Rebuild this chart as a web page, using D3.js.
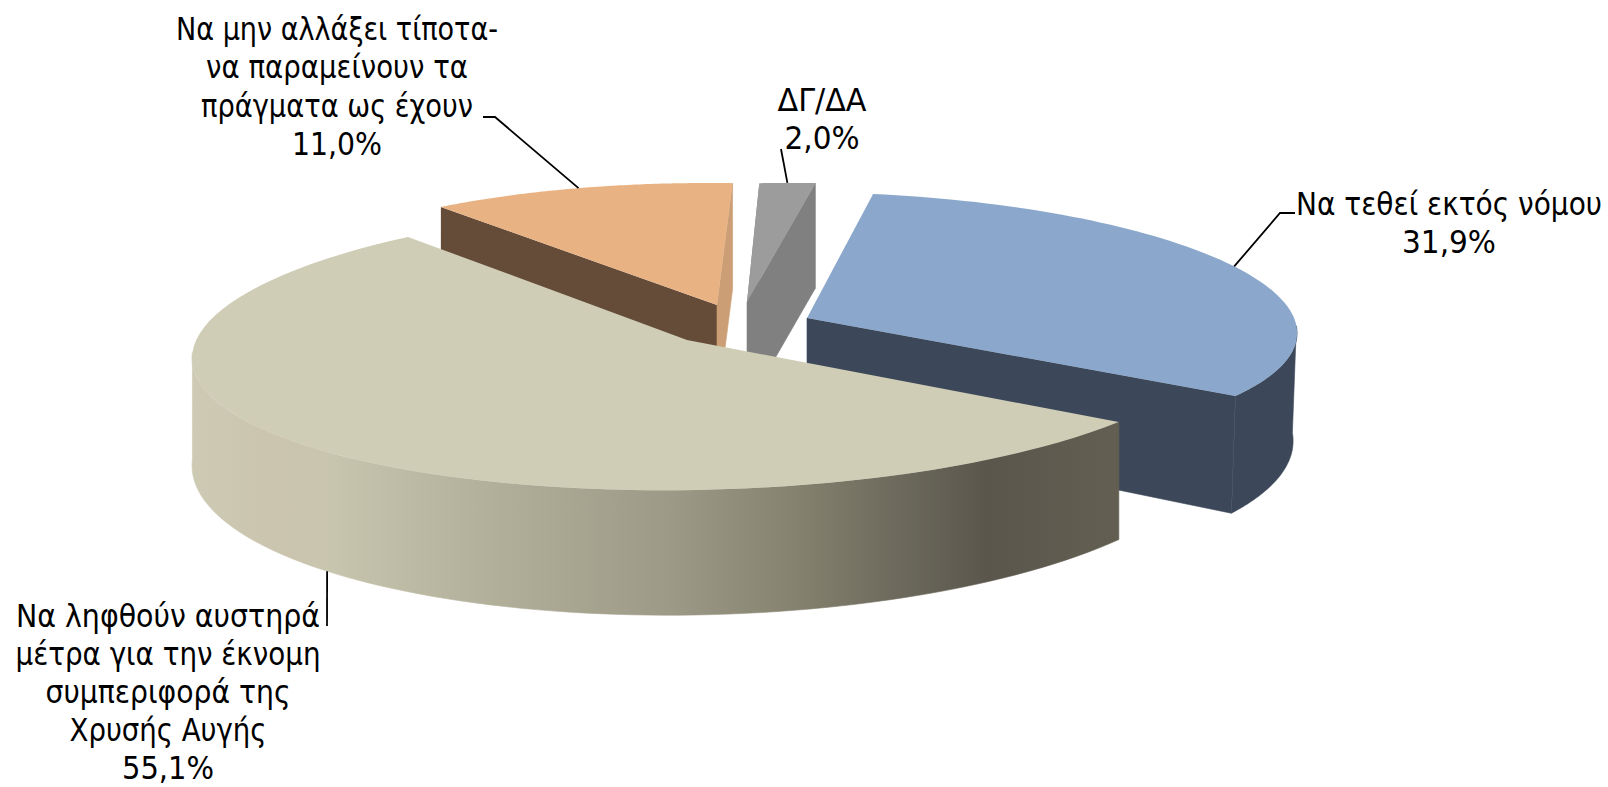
<!DOCTYPE html>
<html lang="el"><head><meta charset="utf-8">
<script src="https://cdn.jsdelivr.net/npm/d3@7"></script>
<style>html,body{margin:0;background:#fff}svg{display:block}text{font-family:"DejaVu Sans Condensed","DejaVu Sans",sans-serif;font-size:31.5px;fill:#000;font-stretch:condensed}</style>
</head><body><svg id="c" width="1608" height="787"></svg>
<script>
const categories = ["Να τεθεί εκτός νόμου", "Να ληφθούν αυστηρά μέτρα για την έκνομη συμπεριφορά της Χρυσής Αυγής", "Να μην αλλάξει τίποτα- να παραμείνουν τα πράγματα ως έχουν", "ΔΓ/ΔΑ"];
const values = [31.9, 55.1, 11.0, 2.0];
const labelLines = [
  ["Να τεθεί εκτός νόμου"],
  ["Να ληφθούν αυστηρά", "μέτρα για την έκνομη", "συμπεριφορά της", "Χρυσής Αυγής"],
  ["Να μην αλλάξει τίποτα-", "να παραμείνουν τα", "πράγματα ως έχουν"],
  ["ΔΓ/ΔΑ"]
];
const topColors = ["#8ba8cc", "#cfcdb6", "#e9b283", "#9c9c9c"];
const wallColors = ["#3c4859", "url(#beigeWall)", "#654c38", "#808080"];
const endWallColors = ["#3c4859", "#5f5c50", "#cb9e75", "#808080"];

// Layout of the label lines (rendered width of each line in the picture).
const labelWidths = [[306,94],[304,305,245,197,92],[322,262,272,90],[89,75]];

// Tilted, exploded view of every slice: apex, projected ellipse, extrusion depth.
const views = [
  {apex:[807,318], e:[832.4,322], a:462, b:-50, c:-3, d:-130, h0:106, h1:19, lx:-4, apexH:108, arc:[93,126], nudge:-2.6, startWall:false, endWall:true,
   label:[1449,215], step:38.3, leader:[[1295,213],[1280,213]]},
  {apex:[687,340], e:[705,346.8], a:513, b:2, c:-11, d:-143, h0:107, h1:18, lx:0, apexH:112, arc:[126,272], nudge:2, startWall:false, endWall:false,
   label:[168,627], step:38, leader:[[327,626]]},
  {apex:[717,305], e:[717,305], a:452, b:-16, c:-2, d:-122, h0:106, h1:0, lx:0, apexH:106, arc:null, nudge:0, startWall:true, endWall:true,
   label:[337,40], step:38.3, leader:[[483,117],[495,117]]},
  {apex:[747,302], e:[747,302], a:448, b:-19, c:-16, d:-118, h0:105, h1:0, lx:0, apexH:105, arc:null, nudge:0, startWall:true, endWall:true,
   label:[822,111], step:38.3, leader:[[781,149]]}
];

const pie = d3.pie().sort(null).startAngle(11.2*Math.PI/180).endAngle((360+11.2)*Math.PI/180);
const arcs = pie(values);
const svg = d3.select("#c");
const line = d3.line();

const stops = [[0,"#cdcab4"],[0.09,"#cbc4ae"],[0.15,"#c8c5af"],[0.32,"#b2af9a"],[0.52,"#9c9986"],[0.65,"#85826f"],[0.78,"#69665a"],[0.86,"#5a564c"],[1,"#625f52"]];
const grad = svg.append("defs").append("linearGradient").attr("id","beigeWall")
  .attr("gradientUnits","userSpaceOnUse").attr("x1",192).attr("x2",1118).attr("y1",0).attr("y2",0);
grad.selectAll("stop").data(stops).join("stop").attr("offset",d=>d[0]).attr("stop-color",d=>d[1]);

const topPt = (v,t)=>[v.e[0]+v.a*Math.sin(t)+v.b*Math.cos(t), v.e[1]+v.c*Math.sin(t)+v.d*Math.cos(t)];
const depth = (v,t)=>v.h0-v.h1*Math.cos(t);
const lowPt = (v,t)=>{const p=topPt(v,t);return [p[0]+v.lx,p[1]+depth(v,t)];};
const sweep = (t0,t1,f)=>d3.range(0,81).map(i=>f(t0+(t1-t0)*i/80));

arcs.map((d,i)=>({d,i})).sort((x,y)=>[3,0,2,1].indexOf(x.i)-[3,0,2,1].indexOf(y.i)).forEach(({d,i})=>{
  const v=views[i], a0=d.startAngle, a1=d.endAngle;
  const g=svg.append("g");
  const apexLow=[v.apex[0],v.apex[1]+v.apexH];
  if(v.startWall) g.append("path").attr("fill",wallColors[i])
    .attr("d",line([v.apex,topPt(v,a0),lowPt(v,a0),apexLow])+"Z");
  if(v.endWall) g.append("path").attr("fill",endWallColors[i]).attr("stroke",endWallColors[i]).attr("stroke-width",0.6)
    .attr("d",line([v.apex,topPt(v,a1),lowPt(v,a1),apexLow])+"Z");
  if(v.arc){
    const t0=v.arc[0]*Math.PI/180,t1=v.arc[1]*Math.PI/180;
    g.append("path").attr("fill",wallColors[i]).attr("stroke",wallColors[i]).attr("stroke-width",0.6)
      .attr("d",line(sweep(t0,t1,t=>topPt(v,t)).concat(sweep(t1,t0,t=>lowPt(v,t))))+"Z");
  }
  g.append("path").attr("fill",topColors[i])
    .attr("d",line([v.apex].concat(sweep(a0,a1,t=>topPt(v,t))))+"Z");
});

// leader lines and labels on top
arcs.forEach((d,i)=>{
  const v=views[i], mid=(d.startAngle+d.endAngle)/2+v.nudge*Math.PI/180;
  const end = i===1 ? lowPt(v,mid) : topPt(v,mid);
  svg.append("path").attr("fill","none").attr("stroke","#000").attr("stroke-width",1.8)
    .attr("d",line(v.leader.concat([end])));
  const lines=labelLines[i].concat([d.value.toFixed(1).replace(".",",")+"%"]);
  lines.forEach((s,k)=>svg.append("text").attr("text-anchor","middle")
    .attr("x",v.label[0]).attr("y",v.label[1]+k*v.step)
    .attr("textLength",labelWidths[i][k]).attr("lengthAdjust","spacingAndGlyphs").text(s));
});
</script></body></html>
